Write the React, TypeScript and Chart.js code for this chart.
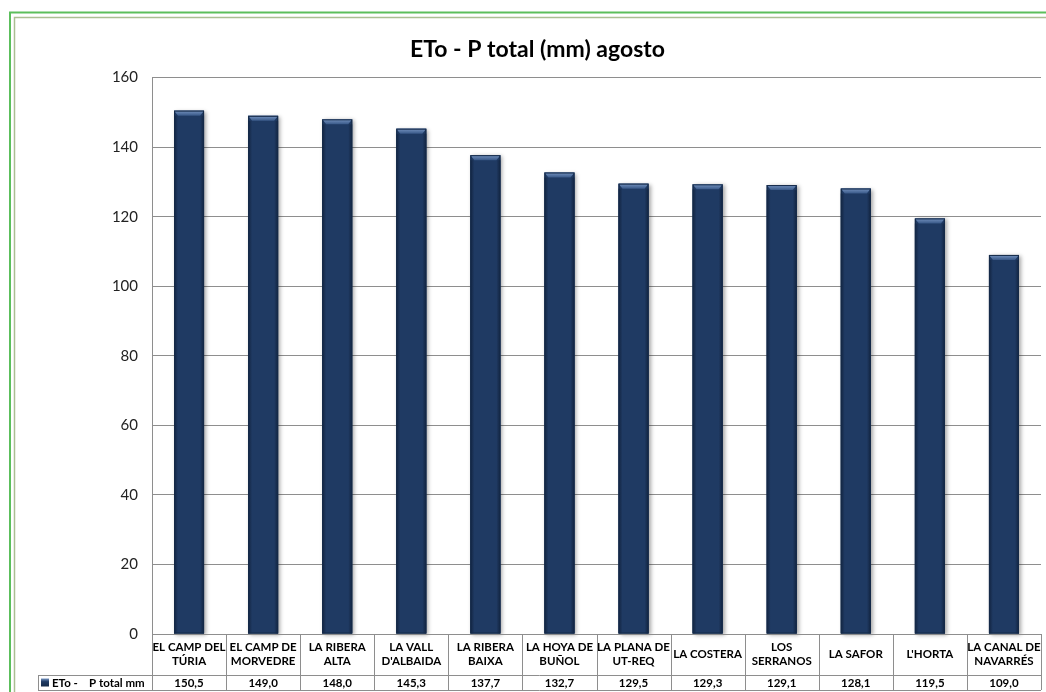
import React, { useEffect, useRef } from "react";
import { Chart, registerables } from "chart.js";

Chart.register(...registerables);

const titleText = "ETo - P total (mm) agosto";
const seriesLabel = "ETo -    P total mm";
const categories: string[][] = [
  ["EL CAMP DEL", "TÚRIA"],
  ["EL CAMP DE", "MORVEDRE"],
  ["LA RIBERA", "ALTA"],
  ["LA VALL", "D'ALBAIDA"],
  ["LA RIBERA", "BAIXA"],
  ["LA HOYA DE", "BUÑOL"],
  ["LA PLANA DE", "UT-REQ"],
  ["LA COSTERA"],
  ["LOS", "SERRANOS"],
  ["LA SAFOR"],
  ["L'HORTA"],
  ["LA CANAL DE", "NAVARRÉS"],
];
const values: number[] = [150.5, 149.0, 148.0, 145.3, 137.7, 132.7, 129.5, 129.3, 129.1, 128.1, 119.5, 109.0];
const yMin = 0;
const yMax = 160;
const yStep = 20;

const FONT = "Lato, 'Open Sans', sans-serif";
const BAR = "#1f3a63";
const LINE = "#8e8e8e";

const fmt = (v: number) => v.toFixed(1).replace(".", ",");

const framePlugin = {
  id: "frame",
  beforeDraw(chart: any) {
    const ctx = chart.ctx;
    ctx.save();
    ctx.fillStyle = "#ffffff";
    ctx.fillRect(0, 0, chart.width, chart.height);
    ctx.lineWidth = 2;
    ctx.strokeStyle = "#5cbf5c";
    ctx.beginPath();
    ctx.moveTo(10, chart.height);
    ctx.lineTo(10, 12.5);
    ctx.lineTo(chart.width, 12.5);
    ctx.stroke();
    ctx.lineWidth = 1.5;
    ctx.strokeStyle = "#aabf92";
    ctx.beginPath();
    ctx.moveTo(14.5, chart.height);
    ctx.lineTo(14.5, 17.5);
    ctx.lineTo(chart.width, 17.5);
    ctx.stroke();
    ctx.restore();
  },
};

const bevelPlugin = {
  id: "bevel",
  beforeDatasetsDraw(chart: any) {
    const ctx = chart.ctx;
    const meta = chart.getDatasetMeta(0);
    ctx.save();
    ctx.shadowColor = "rgba(0,0,0,0.35)";
    ctx.shadowBlur = 4;
    ctx.shadowOffsetX = 2;
    ctx.shadowOffsetY = 1;
    ctx.fillStyle = BAR;
    meta.data.forEach((b: any) => {
      ctx.fillRect(b.x - b.width / 2, b.y, b.width, b.base - b.y);
    });
    ctx.restore();
  },
  afterDatasetsDraw(chart: any) {
    const ctx = chart.ctx;
    const meta = chart.getDatasetMeta(0);
    ctx.save();
    meta.data.forEach((b: any) => {
      const l = b.x - b.width / 2;
      const r = b.x + b.width / 2;
      const t = b.y;
      const bot = b.base;
      const g = ctx.createLinearGradient(0, t, 0, t + 6);
      g.addColorStop(0, "#7593c0");
      g.addColorStop(1, "#2c4c7c");
      ctx.fillStyle = g;
      ctx.beginPath();
      ctx.moveTo(l, t);
      ctx.lineTo(r, t);
      ctx.lineTo(r - 4, t + 5);
      ctx.lineTo(l + 4, t + 5);
      ctx.closePath();
      ctx.fill();
      const gl = ctx.createLinearGradient(l, 0, l + 4, 0);
      gl.addColorStop(0, "rgba(15,30,55,0.8)");
      gl.addColorStop(1, "rgba(15,30,55,0)");
      ctx.fillStyle = gl;
      ctx.fillRect(l, t + 5, 4, bot - t - 5);
      const gr = ctx.createLinearGradient(r - 4, 0, r, 0);
      gr.addColorStop(0, "rgba(15,30,55,0)");
      gr.addColorStop(1, "rgba(15,30,55,0.8)");
      ctx.fillStyle = gr;
      ctx.fillRect(r - 4, t + 5, 4, bot - t - 5);
      ctx.strokeStyle = "#152a48";
      ctx.lineWidth = 1;
      ctx.strokeRect(l + 0.5, t + 0.5, b.width - 1, bot - t - 1);
    });
    ctx.restore();
  },
};

const tablePlugin = {
  id: "dataTable",
  afterDraw(chart: any) {
    const ctx = chart.ctx;
    const area = chart.chartArea;
    const xs = chart.scales.x;
    const n = categories.length;
    const colW = (area.right - area.left) / n;
    const headTop = area.bottom;
    const headBot = area.bottom + 41;
    const rowBot = headBot + 15;
    const labelLeft = 38;
    ctx.save();
    ctx.strokeStyle = LINE;
    ctx.lineWidth = 1;
    ctx.beginPath();
    for (let i = 0; i <= n; i++) {
      const x = Math.round(area.left + i * colW) + 0.5;
      ctx.moveTo(x, headTop);
      ctx.lineTo(x, rowBot);
    }
    ctx.moveTo(area.left, Math.round(headTop) + 0.5);
    ctx.lineTo(area.right, Math.round(headTop) + 0.5);
    ctx.moveTo(labelLeft, headBot + 0.5);
    ctx.lineTo(area.right, headBot + 0.5);
    ctx.moveTo(labelLeft, rowBot + 0.5);
    ctx.lineTo(area.right, rowBot + 0.5);
    ctx.moveTo(labelLeft + 0.5, headBot);
    ctx.lineTo(labelLeft + 0.5, rowBot);
    ctx.stroke();

    ctx.fillStyle = "#000";
    ctx.font = `bold 11.5px ${FONT}`;
    ctx.textAlign = "center";
    ctx.textBaseline = "middle";
    categories.forEach((lines, i) => {
      const cx = xs.getPixelForValue(i);
      const mid = (headTop + headBot) / 2;
      const lh = 14;
      lines.forEach((s, k) => {
        const y = mid + (k - (lines.length - 1) / 2) * lh;
        ctx.fillText(s, cx, y);
      });
      ctx.fillText(fmt(values[i]), cx, (headBot + rowBot) / 2 + 1);
    });

    const ky = (headBot + rowBot) / 2;
    const g = ctx.createLinearGradient(0, ky - 4, 0, ky + 4);
    g.addColorStop(0, "#7593c0");
    g.addColorStop(0.4, BAR);
    g.addColorStop(1, "#152a48");
    ctx.fillStyle = g;
    ctx.fillRect(labelLeft + 3, ky - 4, 8, 8);
    ctx.fillStyle = "#000";
    ctx.textAlign = "left";
    ctx.fillText(seriesLabel, labelLeft + 14, ky + 1);
    ctx.restore();
  },
};

export default function App() {
  const ref = useRef<HTMLCanvasElement>(null);
  useEffect(() => {
    if (!ref.current) return;
    const chart = new Chart(ref.current, {
      type: "bar",
      data: {
        labels: categories.map((c) => c.join(" ")),
        datasets: [
          {
            label: seriesLabel,
            data: values,
            backgroundColor: BAR,
            borderWidth: 0,
            categoryPercentage: 1,
            barPercentage: 0.405,
          },
        ],
      },
      options: {
        responsive: false,
        animation: false,
        events: [],
        layout: { padding: { left: 34, right: 5, top: 0, bottom: 58 } },
        plugins: {
          legend: { display: false },
          tooltip: { enabled: false },
          title: {
            display: true,
            text: titleText,
            color: "#000",
            font: { family: FONT, size: 23, weight: "bold" },
            padding: { top: 36, bottom: 14 },
          },
        },
        scales: {
          x: { display: false },
          y: {
            min: yMin,
            max: yMax,
            ticks: {
              stepSize: yStep,
              padding: 14,
              color: "#222",
              font: { family: FONT, size: 15 },
            },
            grid: { color: LINE, drawTicks: false },
            border: { display: true, color: LINE },
            afterFit: (scale: any) => {
              scale.width = 118;
            },
          },
        },
      },
      plugins: [framePlugin, bevelPlugin, tablePlugin],
    });
    return () => chart.destroy();
  }, []);
  return (
    <div style={{ position: "absolute", left: 0, top: 0, width: 1046, height: 692 }}>
      <canvas ref={ref} width={1046} height={692} style={{ width: 1046, height: 692 }} />
    </div>
  );
}
